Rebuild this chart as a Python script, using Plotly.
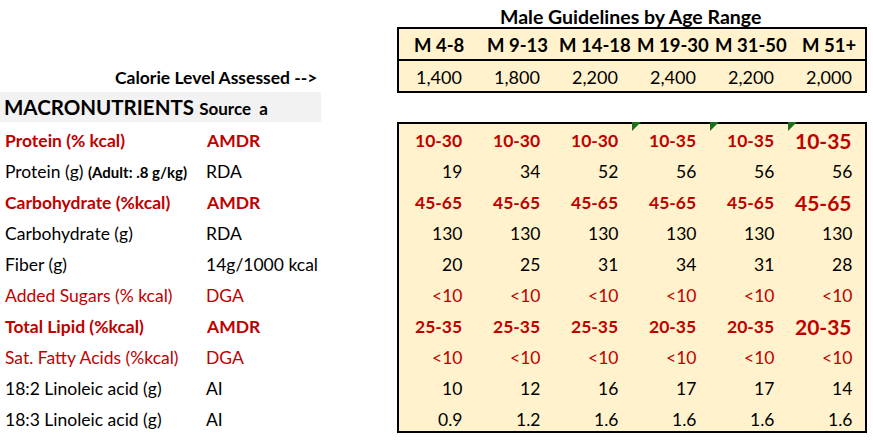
import plotly.graph_objects as go

# ---------------- data ----------------
title = "Male Guidelines by Age Range"
age_groups = ["M 4-8", "M 9-13", "M 14-18", "M 19-30", "M 31-50", "M 51+"]
calorie_label = "Calorie Level Assessed -->"
calories = ["1,400", "1,800", "2,200", "2,400", "2,200", "2,000"]
section = "MACRONUTRIENTS"
section_source = "Source  a"

nutrients = [
    "Protein (% kcal)",
    "Protein (g)",
    "Carbohydrate (%kcal)",
    "Carbohydrate (g)",
    "Fiber (g)",
    "Added Sugars (% kcal)",
    "Total Lipid (%kcal)",
    "Sat. Fatty Acids (%kcal)",
    "18:2 Linoleic acid (g)",
    "18:3 Linoleic acid (g)",
]
nutrient_notes = ["", "(Adult: .8 g/kg)", "", "", "", "", "", "", "", ""]
sources = ["AMDR", "RDA", "AMDR", "RDA", "14g/1000 kcal", "DGA", "AMDR", "DGA", "AI", "AI"]
styles = ["amdr", "plain", "amdr", "plain", "plain", "dga", "amdr", "dga", "plain", "plain"]

protein_pct = ["10-30", "10-30", "10-30", "10-35", "10-35", "10-35"]
protein_g = ["19", "34", "52", "56", "56", "56"]
carb_pct = ["45-65", "45-65", "45-65", "45-65", "45-65", "45-65"]
carb_g = ["130", "130", "130", "130", "130", "130"]
fiber_g = ["20", "25", "31", "34", "31", "28"]
added_sugars = ["<10", "<10", "<10", "<10", "<10", "<10"]
total_lipid = ["25-35", "25-35", "25-35", "20-35", "20-35", "20-35"]
sat_fat = ["<10", "<10", "<10", "<10", "<10", "<10"]
linoleic_18_2 = ["10", "12", "16", "17", "17", "14"]
linolenic_18_3 = ["0.9", "1.2", "1.6", "1.6", "1.6", "1.6"]
table_values = [protein_pct, protein_g, carb_pct, carb_g, fiber_g,
                added_sugars, total_lipid, sat_fat, linoleic_18_2, linolenic_18_3]
comment_flags = [False, False, False, True, True, True]

# ---------------- layout constants ----------------
W, H = 873, 442
FONT = "Lato"
RED = "#C00000"
BLACK = "#000000"
FILL = "#FFF2CC"
col_left = 399
col_w = 78
ncol = len(age_groups)
col_right_edge = col_left + col_w * ncol - 1
row0_y = 140
row_h = 31
header_top, header_mid, header_bot = 28, 60, 92
data_top = 123
data_bot = 432
PAD = 3  # annotation inner padding compensation

fig = go.Figure()
fig.add_trace(go.Scatter(x=[0, W], y=[0, H], mode="markers",
                         marker=dict(opacity=0), hoverinfo="skip", showlegend=False))

shapes = []
ann = []

# boxes
shapes.append(dict(type="rect", xref="x", yref="y", x0=col_left - 1, x1=col_right_edge,
                   y0=header_top, y1=header_bot, fillcolor=FILL,
                   line=dict(color=BLACK, width=2), layer="below"))
shapes.append(dict(type="line", xref="x", yref="y", x0=col_left - 1, x1=col_right_edge,
                   y0=header_mid, y1=header_mid, line=dict(color=BLACK, width=2)))
shapes.append(dict(type="rect", xref="x", yref="y", x0=col_left - 1, x1=col_right_edge,
                   y0=data_top, y1=data_bot, fillcolor=FILL,
                   line=dict(color=BLACK, width=2), layer="below"))
# grey section band
shapes.append(dict(type="rect", xref="x", yref="y", x0=0, x1=321, y0=92, y1=122,
                   fillcolor="#F2F2F2", line=dict(width=0), layer="below"))

# comment triangles
for i, flag in enumerate(comment_flags):
    if flag:
        x0 = col_left + col_w * i - 1
        shapes.append(dict(type="path", xref="x", yref="y",
                           path=f"M {x0},{data_top-1} L {x0+9},{data_top-1} L {x0},{data_top+8} Z",
                           fillcolor="#1C6E1C", line=dict(width=0)))

def add_text(x, y, text, size, color=BLACK, bold=False, anchor="left"):
    if anchor == "left":
        x -= PAD
    elif anchor == "right":
        x += PAD
    ann.append(dict(x=x, y=y, xref="x", yref="y", text=f"<b>{text}</b>" if bold else text,
                    showarrow=False, xanchor=anchor, yanchor="middle",
                    font=dict(family=FONT, size=size, color=color)))

BODY = 17.5
add_text(630, 16, title, 19.5, bold=True, anchor="center")
for i, g in enumerate(age_groups):
    add_text(col_left + col_w * i + col_w / 2 + 1, 45, g, 18.5, bold=True, anchor="center")
for i, c in enumerate(calories):
    add_text(col_left + col_w * (i + 1) - 16, 77, c, 18, anchor="right")
add_text(317, 77, calorie_label, BODY, bold=True, anchor="right")
ann.append(dict(x=5 - PAD, y=107, xref="x", yref="y", showarrow=False, xanchor="left", yanchor="middle",
                text=f"<b>{section}</b> <b><span style='font-size:17px'>{section_source}</span></b>",
                font=dict(family=FONT, size=20.5, color=BLACK)))

for r, name in enumerate(nutrients):
    y = row0_y + row_h * r
    st = styles[r]
    color = RED if st in ("amdr", "dga") else BLACK
    bold = st == "amdr"
    label = f"<b>{name}</b>" if bold else name
    if nutrient_notes[r]:
        label += f" <b><span style='font-size:15px'>{nutrient_notes[r]}</span></b>"
    ann.append(dict(x=6 - PAD, y=y, xref="x", yref="y", text=label, showarrow=False,
                    xanchor="left", yanchor="middle",
                    font=dict(family=FONT, size=BODY, color=color)))
    add_text(207, y, sources[r], BODY, color=color, bold=bold)
    for i, v in enumerate(table_values[r]):
        size = BODY
        if bold and i == ncol - 1:
            size = 21
        add_text(col_left + col_w * (i + 1) - 16, y, v, size, color=color, bold=bold, anchor="right")

fig.update_layout(
    width=W, height=H, margin=dict(l=0, r=0, t=0, b=0),
    paper_bgcolor="white", plot_bgcolor="white",
    xaxis=dict(range=[0, W], visible=False, fixedrange=True),
    yaxis=dict(range=[H, 0], visible=False, fixedrange=True),
    shapes=shapes, annotations=ann, showlegend=False,
)
fig.write_html("out.html", config={"displayModeBar": False},
               post_script="document.body.style.margin='0';document.body.style.overflow='hidden';")
